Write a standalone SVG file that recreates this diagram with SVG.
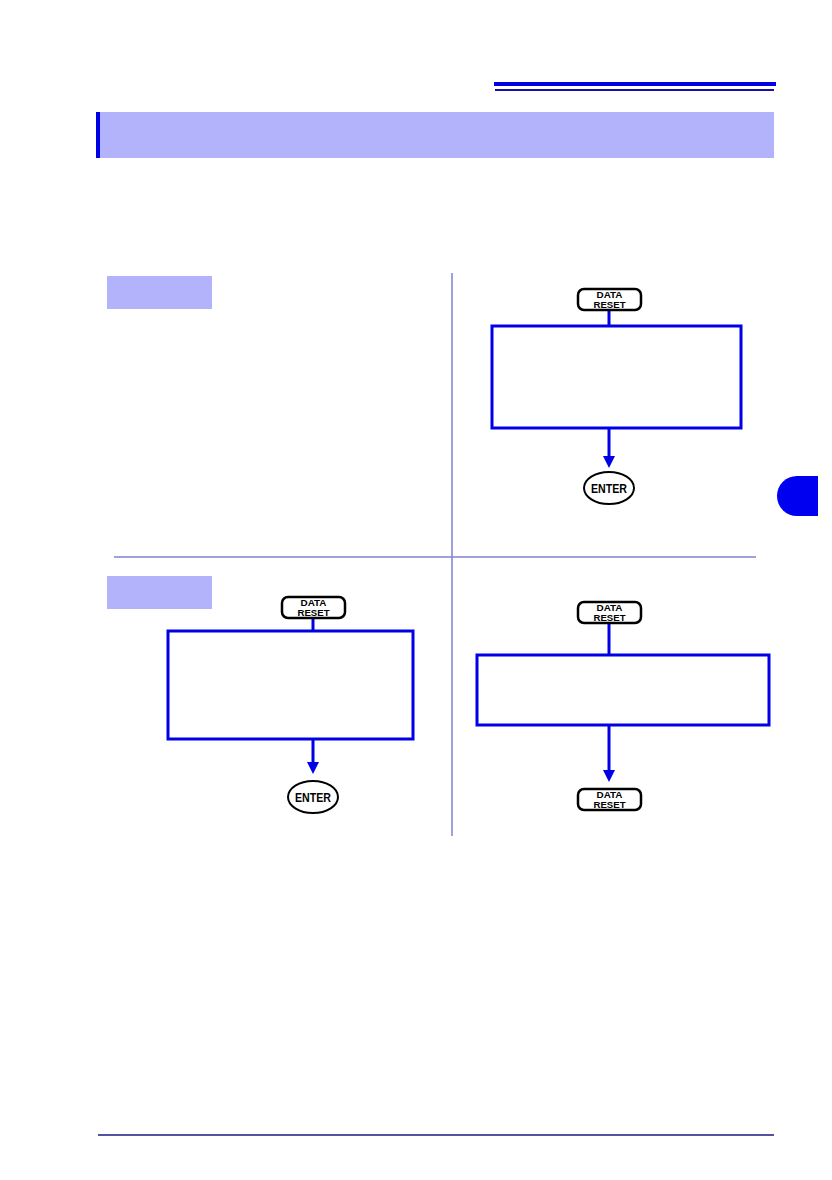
<svg xmlns="http://www.w3.org/2000/svg" width="832" height="1180" viewBox="0 0 832 1180">
<style>
.key{fill:#fff;stroke:#000;stroke-width:2.5}
.kt{font-family:"Liberation Sans",Arial,sans-serif;font-weight:bold;font-size:9.5px;fill:#000;text-anchor:middle}
.et{font-family:"Liberation Sans",Arial,sans-serif;font-weight:bold;font-size:12.5px;fill:#000;text-anchor:middle}
.box{fill:#fff;stroke:#0000e6;stroke-width:3}
.conn{stroke:#0000e6;stroke-width:3;fill:none}
.lab{fill:#b3b3fb}
.div{stroke:#8080d0;stroke-width:1.5}
</style>
<defs>
<marker id="ah" markerWidth="4" markerHeight="4" refX="2" refY="2" orient="auto" markerUnits="strokeWidth">
<path d="M0,0 L4,2 L0,4 Z" fill="#0000e6"/>
</marker>
</defs>
<rect width="832" height="1180" fill="#fff"/>
<g id="header">
<rect x="494" y="82" width="282" height="4" fill="#0000e0"/>
<rect x="495" y="89" width="279" height="2" fill="#1a10a8"/>
<rect x="96" y="112" width="678" height="46" fill="#b3b3fb"/>
<rect x="96" y="112" width="4" height="46" fill="#0000e6"/>
<path d="M818,476 H797 A20,20 0 0 0 797,516 H818 Z" fill="#0000f0"/>
<line x1="98" y1="1135" x2="774" y2="1135" stroke="#1a1a80" stroke-width="1.5"/>
</g>
<g id="dividers">
<line class="div" x1="452" y1="273" x2="452" y2="836"/>
<line class="div" x1="114" y1="557" x2="756" y2="557"/>
<rect class="lab" x="107" y="276" width="105" height="33"/>
<rect class="lab" x="107" y="576" width="105" height="33"/>
</g>
<g id="connectors">
<line class="conn" x1="609" y1="310" x2="609" y2="326"/>
<line class="conn" x1="609" y1="428" x2="609" y2="462" marker-end="url(#ah)"/>
<line class="conn" x1="313" y1="619" x2="313" y2="631"/>
<line class="conn" x1="313" y1="739" x2="313" y2="768" marker-end="url(#ah)"/>
<line class="conn" x1="609" y1="624" x2="609" y2="655"/>
<line class="conn" x1="609" y1="725" x2="609" y2="776" marker-end="url(#ah)"/>
</g>
<g id="key1">
<rect class="key" x="578" y="289" width="63" height="21" rx="6"/>
<text class="kt" x="609.5" y="297.8" textLength="26" lengthAdjust="spacingAndGlyphs">DATA</text>
<text class="kt" x="609.5" y="308.1" textLength="32" lengthAdjust="spacingAndGlyphs">RESET</text>
</g>
<g id="box1"><rect class="box" x="492" y="326" width="249" height="102"/></g>
<g id="enter1">
<ellipse cx="609" cy="488" rx="25" ry="16" fill="#fff" stroke="#000" stroke-width="2"/>
<text class="et" x="609" y="492.5" textLength="36" lengthAdjust="spacingAndGlyphs">ENTER</text>
</g>
<g id="key2">
<rect class="key" x="282" y="597" width="63" height="21" rx="6"/>
<text class="kt" x="313.5" y="605.8" textLength="26" lengthAdjust="spacingAndGlyphs">DATA</text>
<text class="kt" x="313.5" y="616.1" textLength="32" lengthAdjust="spacingAndGlyphs">RESET</text>
</g>
<g id="box2"><rect class="box" x="168" y="631" width="245" height="108"/></g>
<g id="enter2">
<ellipse cx="313" cy="797" rx="25" ry="16" fill="#fff" stroke="#000" stroke-width="2"/>
<text class="et" x="313" y="801.5" textLength="36" lengthAdjust="spacingAndGlyphs">ENTER</text>
</g>
<g id="key3">
<rect class="key" x="578" y="602" width="63" height="21" rx="6"/>
<text class="kt" x="609.5" y="610.8" textLength="26" lengthAdjust="spacingAndGlyphs">DATA</text>
<text class="kt" x="609.5" y="621.1" textLength="32" lengthAdjust="spacingAndGlyphs">RESET</text>
</g>
<g id="box3"><rect class="box" x="477" y="655" width="292" height="70"/></g>
<g id="key4">
<rect class="key" x="578" y="789" width="63" height="21" rx="6"/>
<text class="kt" x="609.5" y="797.8" textLength="26" lengthAdjust="spacingAndGlyphs">DATA</text>
<text class="kt" x="609.5" y="808.1" textLength="32" lengthAdjust="spacingAndGlyphs">RESET</text>
</g>
</svg>
